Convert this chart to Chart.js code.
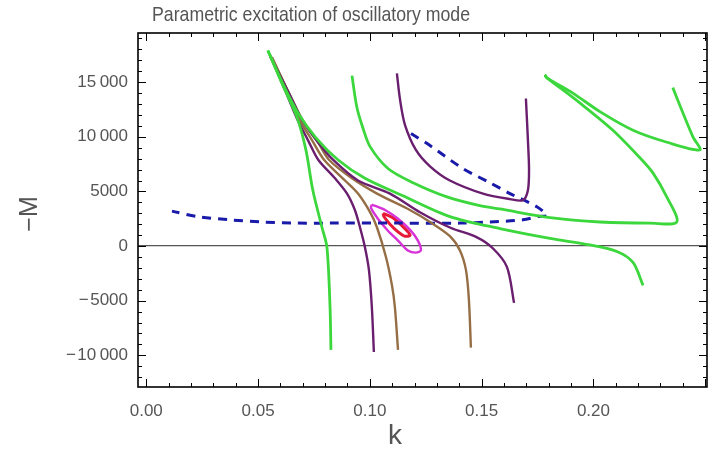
<!DOCTYPE html>
<html>
<head>
<meta charset="utf-8">
<script src="https://cdn.jsdelivr.net/npm/chart.js@4.4.1/dist/chart.umd.min.js"></script>
<style>
  html, body { margin: 0; padding: 0; background: #fff; }
  #wrap { width: 709px; height: 465px; }
</style>
</head>
<body>
<div id="wrap"><canvas id="chart"></canvas></div>
<script>
// contour curves, each point is [k, -M]
const green1 = [[0.0544,17900],[0.0611,14700],[0.0674,11800],[0.0714,8800],[0.0745,5100],[0.0786,1700],[0.0808,-100],[0.0822,-5600],[0.0826,-9500]];
const green2 = [[0.0544,17900],[0.0612,14800],[0.0678,12200],[0.0759,9900],[0.0857,7900],[0.0978,6200],[0.1148,4600],[0.1358,2700],[0.1582,1600],[0.1806,700],[0.1984,100],[0.2105,-500],[0.2177,-1500],[0.2222,-3600]];
const green3 = [[0.0920,15600],[0.0942,12700],[0.0969,10800],[0.1001,9100],[0.1081,7100],[0.1193,5800],[0.1345,4500],[0.1492,3700],[0.1582,3400],[0.1806,2600],[0.2029,2200],[0.2253,2100],[0.2373,2200],[0.2328,4500],[0.2266,6700],[0.2207,8100],[0.2087,10600],[0.1939,13100],[0.1792,15400],[0.1783,15600]];
const green4 = [[0.2355,14500],[0.2400,12200],[0.2445,10000],[0.2476,8800],[0.2329,9500],[0.2177,10600],[0.2029,12300],[0.1908,14000],[0.1792,15400],[0.1783,15700]];
const purple1 = [[0.0553,17500],[0.0620,14300],[0.0678,11500],[0.0723,9700],[0.0769,7900],[0.0844,6200],[0.0898,4800],[0.0933,3300],[0.0956,1700],[0.0978,-100],[0.0996,-2200],[0.1009,-5600],[0.1018,-9700]];
const purple2 = [[0.0553,17400],[0.0638,14000],[0.0701,11400],[0.0768,9500],[0.0835,7900],[0.0947,6000],[0.1090,4800],[0.1224,3100],[0.1358,1700],[0.1479,800],[0.1550,-200],[0.1613,-1900],[0.1645,-5200]];
const purple3 = [[0.1121,15800],[0.1135,13400],[0.1157,11100],[0.1206,8800],[0.1269,7300],[0.1358,6000],[0.1506,4800],[0.1627,4300],[0.1685,4200],[0.1707,5100],[0.1712,7000],[0.1707,9700],[0.1698,13500]];
const brown1 = [[0.0562,17300],[0.0634,14100],[0.0687,11500],[0.0741,9700],[0.0795,7900],[0.0889,6000],[0.0947,4800],[0.1001,3100],[0.1032,1700],[0.1072,-1000],[0.1099,-3600],[0.1112,-5600],[0.1126,-9500]];
const brown2 = [[0.0562,17200],[0.0643,13800],[0.0705,11300],[0.0768,9500],[0.0817,7900],[0.0920,6200],[0.1032,4800],[0.1179,3300],[0.1269,2200],[0.1358,900],[0.1403,-400],[0.1430,-2200],[0.1443,-4900],[0.1452,-9300]];
const magentaLoop = [[0.1009,3800],[0.1068,3300],[0.1126,2500],[0.1179,1500],[0.1215,500],[0.1228,-400],[0.1206,-600],[0.1170,-400],[0.1126,500],[0.1081,1400],[0.1036,2500],[0.1005,3500],[0.1009,3800]];
const redLoop = [[0.1059,3000],[0.1103,2600],[0.1157,1600],[0.1180,1000],[0.1157,900],[0.1126,1300],[0.1090,2000],[0.1063,2700],[0.1059,3000]];
const blueDashed = [[0.1184,10300],[0.1269,9200],[0.1416,7100],[0.1537,5800],[0.1627,4800],[0.1747,3600],[0.1792,2800],[0.1752,2700],[0.1685,2400],[0.1537,2200],[0.1403,2100],[0.1135,2100],[0.0822,2100],[0.0674,2100],[0.0522,2200],[0.0374,2400],[0.0227,2700],[0.0115,3200]];

const xTickValues = [0, 0.05, 0.10, 0.15, 0.20];
const xTickLabels = ['0.00', '0.05', '0.10', '0.15', '0.20'];
const yTickValues = [-10000, -5000, 0, 5000, 10000, 15000];
const yTickLabels = ['\u2212\u200a10\u2009000', '\u2212\u200a5000', '0', '5000', '10\u2009000', '15\u2009000'];

const titleText = 'Parametric excitation of oscillatory mode';
const xTitle = 'k';
const yTitle = '\u2212M';

const GREEN = 'rgb(60,215,60)';
const PURPLE = 'rgb(105,30,110)';
const BROWN = 'rgb(150,110,70)';

function curve(points, color, width, dash) {
  return {
    data: points.map(p => ({ x: p[0], y: p[1] })),
    borderColor: color,
    borderWidth: width,
    borderDash: dash || [],
    showLine: true,
    pointRadius: 0,
    tension: 0.3
  };
}

// Mathematica style frame with inward ticks on all four sides
const framePlugin = {
  id: 'frame',
  afterDatasetsDraw(chart) {
    const { ctx, chartArea: a, scales: { x, y } } = chart;
    ctx.save();
    ctx.strokeStyle = '#000';
    ctx.lineWidth = 1;
    const seg = (x1, y1, x2, y2) => { ctx.beginPath(); ctx.moveTo(x1, y1); ctx.lineTo(x2, y2); ctx.stroke(); };
    for (let i = 0; i <= 25; i++) {
      const px = Math.round(x.getPixelForValue(i / 100)) + 0.5;
      if (px < a.left || px > a.right) continue;
      const len = i % 5 === 0 ? 8 : 4;
      seg(px, a.bottom, px, a.bottom - len);
      seg(px, a.top, px, a.top + len);
    }
    for (let v = -12000; v <= 19000; v += 1000) {
      const py = Math.round(y.getPixelForValue(v)) + 0.5;
      const len = v % 5000 === 0 ? 8 : 4;
      seg(a.left, py, a.left + len, py);
      seg(a.right, py, a.right - len, py);
    }
    ctx.lineWidth = 1.6;
    ctx.strokeRect(a.left, a.top, a.right - a.left, a.bottom - a.top);
    ctx.restore();
  },
  afterDraw(chart) {
    const ctx = chart.ctx;
    ctx.save();
    ctx.fillStyle = '#555';
    ctx.textAlign = 'center';
    ctx.textBaseline = 'middle';
    // the title in the picture is set in a narrow face
    ctx.font = '21px "Liberation Sans", Arial, sans-serif';
    const sx = 318 / ctx.measureText(titleText).width;
    ctx.save();
    ctx.translate(311, 15);
    ctx.scale(sx, 1);
    ctx.fillText(titleText, 0, 0);
    ctx.restore();
    ctx.font = '28px "Liberation Sans", Arial, sans-serif';
    ctx.fillText(xTitle, 395, 436);
    ctx.translate(30, 214);
    ctx.rotate(-Math.PI / 2);
    ctx.font = '25px "Liberation Sans", Arial, sans-serif';
    ctx.fillText(yTitle, 0, 0);
    ctx.restore();
  }
};

new Chart(document.getElementById('chart'), {
  type: 'scatter',
  data: {
    datasets: [
      curve(green1, GREEN, 2.8),
      curve(green2, GREEN, 2.8),
      curve(green3, GREEN, 2.8),
      curve(green4, GREEN, 2.8),
      curve(purple1, PURPLE, 2.4),
      curve(purple2, PURPLE, 2.4),
      curve(purple3, PURPLE, 2.4),
      curve(brown1, BROWN, 2.4),
      curve(brown2, BROWN, 2.4),
      curve(blueDashed, 'rgb(25,25,170)', 3, [9, 7]),
      curve(magentaLoop, 'rgb(215,50,215)', 2.4),
      curve(redLoop, 'rgb(230,25,55)', 3)
    ]
  },
  options: {
    responsive: true,
    maintainAspectRatio: false,
    devicePixelRatio: 1,
    animation: false,
    layout: { padding: { top: 33, right: 2, left: 0, bottom: 0 } },
    plugins: { legend: { display: false }, tooltip: { enabled: false } },
    scales: {
      x: {
        type: 'linear',
        min: -0.0037,
        max: 0.2508,
        afterFit: s => { s.height = 78; },
        afterBuildTicks: s => { s.ticks = xTickValues.map(v => ({ value: v })); },
        grid: { display: false },
        border: { display: false },
        ticks: {
          padding: 6,
          color: '#555',
          font: { family: '"Liberation Sans", Arial, sans-serif', size: 17 },
          callback: (v, i) => xTickLabels[i]
        }
      },
      y: {
        type: 'linear',
        min: -12900,
        max: 19500,
        afterFit: s => { s.width = 138; },
        afterBuildTicks: s => { s.ticks = yTickValues.map(v => ({ value: v })); },
        grid: {
          drawTicks: false,
          color: c => (c.tick && c.tick.value === 0 ? '#555' : 'rgba(0,0,0,0)'),
          lineWidth: 1.2
        },
        border: { display: false },
        ticks: {
          padding: 10,
          color: '#555',
          font: { family: '"Liberation Sans", Arial, sans-serif', size: 17 },
          callback: (v, i) => yTickLabels[i]
        }
      }
    }
  },
  plugins: [framePlugin]
});
</script>
</body>
</html>
